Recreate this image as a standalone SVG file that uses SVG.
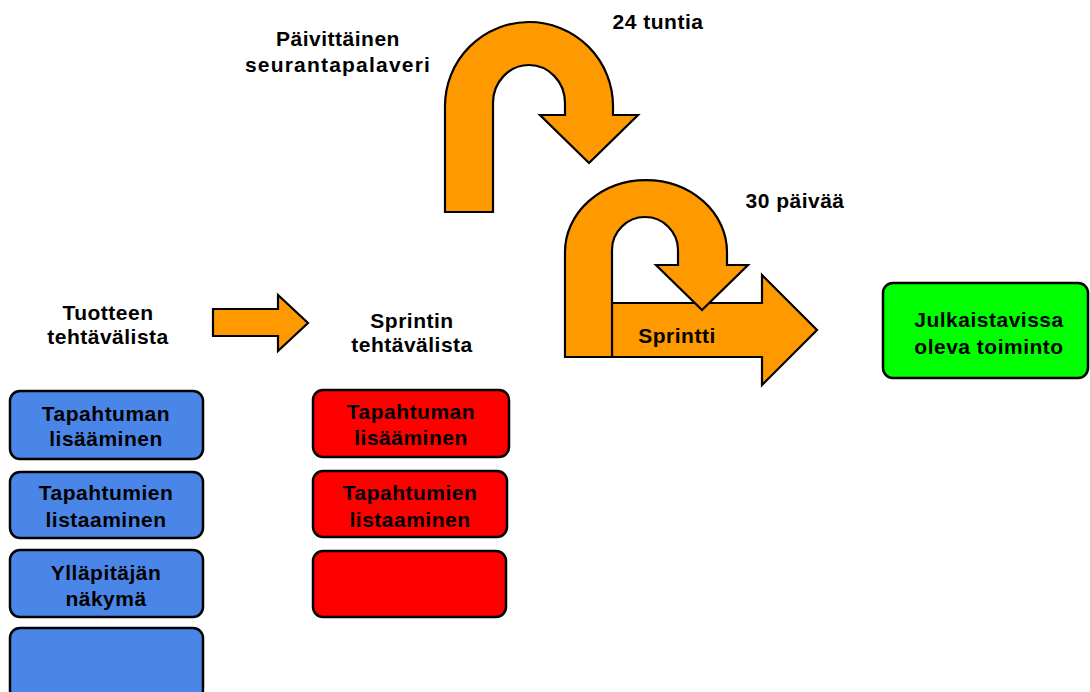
<svg xmlns="http://www.w3.org/2000/svg" width="1090" height="692" viewBox="0 0 1090 692">
<style>
text{font-family:"Liberation Sans",Arial,sans-serif;font-weight:bold;font-size:21px;fill:#000;text-anchor:middle;letter-spacing:0.5px}
.arr{fill:#ff9900;stroke:#000;stroke-width:2.2;stroke-linejoin:miter}
.box{stroke:#000;stroke-width:2.5}
.blue{fill:#4a86e8}
.red{fill:#ff0000}
.green{fill:#00ff00}
</style>
<rect width="1090" height="692" fill="#fff"/>
<g id="connectors">
<path class="arr" d="M213,309 L278,309 L278,295 L308,323 L278,351 L278,336 L213,336 Z"/>
<path class="arr" d="M445,212 L445,106 A84,84 0 0 1 613,106 L613,115 L638,115 L589,163 L540,115 L565,115 L565,103 A36,38 0 0 0 493,103 L493,212 Z"/>
<path class="arr" d="M612,303 L762,303 L762,275 L817,330 L762,385 L762,357 L612,357 Z"/>
<path class="arr" d="M565,357 L565,252 A81,72 0 0 1 727,252 L727,265 L748,265 L702,310 L656,265 L678,265 L678,250 A33,33 0 0 0 612,250 L612,357 Z"/>
</g>
<g id="label-daily"><text x="338" y="46">Päivittäinen</text><text x="338" y="72" style="letter-spacing:1.2px">seurantapalaveri</text></g>
<g id="label-24h"><text x="658" y="29">24 tuntia</text></g>
<g id="label-30d"><text x="795" y="208">30 päivää</text></g>
<g id="label-sprint"><text x="677" y="343">Sprintti</text></g>
<g id="label-product"><text x="108" y="320">Tuotteen</text><text x="108" y="344">tehtävälista</text></g>
<g id="label-sprintbacklog"><text x="412" y="328">Sprintin</text><text x="412" y="352">tehtävälista</text></g>
<g id="b1"><rect class="box blue" x="10" y="391" width="193" height="68" rx="10"/><text x="106" y="421">Tapahtuman</text><text x="106" y="446">lisääminen</text></g>
<g id="b2"><rect class="box blue" x="10" y="472" width="193" height="66" rx="10"/><text x="106" y="500">Tapahtumien</text><text x="106" y="527">listaaminen</text></g>
<g id="b3"><rect class="box blue" x="10" y="550" width="193" height="67" rx="10"/><text x="106" y="580">Ylläpitäjän</text><text x="106" y="606">näkymä</text></g>
<g id="b4"><rect class="box blue" x="10" y="628" width="193" height="72" rx="10"/></g>
<g id="r1"><rect class="box red" x="313" y="390" width="196" height="67" rx="10"/><text x="411" y="419">Tapahtuman</text><text x="411" y="445">lisääminen</text></g>
<g id="r2"><rect class="box red" x="313" y="471" width="194" height="66" rx="10"/><text x="410" y="500">Tapahtumien</text><text x="410" y="527">listaaminen</text></g>
<g id="r3"><rect class="box red" x="313" y="551" width="193" height="66" rx="10"/></g>
<g id="release"><rect class="box green" x="883" y="283" width="205" height="95" rx="10"/><text x="989" y="327">Julkaistavissa</text><text x="989" y="354">oleva toiminto</text></g>
</svg>
